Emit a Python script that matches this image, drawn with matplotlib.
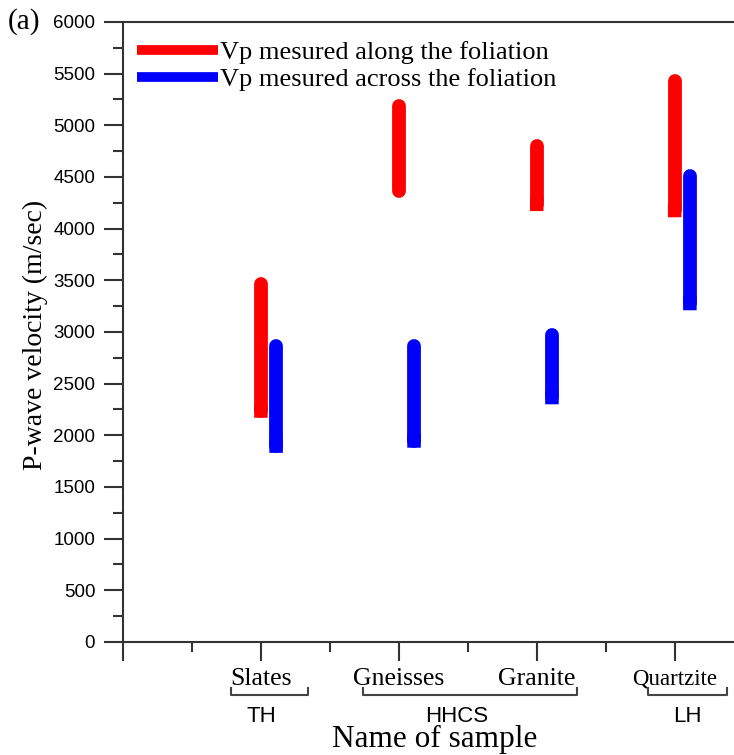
import matplotlib.pyplot as plt
from matplotlib.lines import Line2D
import numpy as np

# sample names and their tectonic units
samples = ['Slates', 'Gneisses', 'Granite', 'Quartzite']
sample_sizes = [18.5, 18.5, 18.5, 16.5]
groups = ['TH', 'HHCS', 'LH']
group_spans = [(0.78, 1.34), (1.74, 3.29), (3.81, 4.38)]
group_centers = [1.0, 2.42, 4.09]

# velocity ranges (m/sec)
along_low = [2170, 4300, 4170, 4110]
along_high = [3530, 5250, 4870, 5500]
across_low = [1830, 1880, 2300, 3210]
across_high = [2930, 2930, 3040, 4580]
along_round_bottom = [False, True, False, False]

serif = ['Liberation Serif', 'DejaVu Serif']
sans = ['Liberation Sans', 'DejaVu Sans']

fig = plt.figure(figsize=(7.34, 7.55), dpi=100)
ax = fig.add_axes([0.1676, 0.1497, 0.8324, 0.8212])
ax.set_xlim(0, 4.43)
ax.set_ylim(0, 6000)

x = np.arange(1, len(samples) + 1)
w = 0.1
offset = 0.11

# bar width in points and cap radius in data units
p0 = ax.transData.transform((0, 0))
p1 = ax.transData.transform((w, 1000))
bar_px = p1[0] - p0[0]
r_data = (bar_px / 2) / ((p1[1] - p0[1]) / 1000)
lw_pt = bar_px * 72 / fig.dpi


def draw_bars(xpos, low, high, color, round_bottom=None):
    for i in range(len(xpos)):
        # thick line with round caps, flat bottom covered by a bar
        ax.plot([xpos[i], xpos[i]], [low[i] + r_data, high[i] - r_data], color=color,
                lw=lw_pt, solid_capstyle='round', zorder=3)
        if round_bottom is None or not round_bottom[i]:
            ax.bar(xpos[i], 2 * r_data, bottom=low[i], width=w * 0.98, color=color,
                   zorder=3, snap=False, linewidth=0)


draw_bars(x, along_low, along_high, '#ff0000', along_round_bottom)
draw_bars(x + offset, across_low, across_high, '#0000ff')

# axes styling
spine_col = '#333333'
for s in ['left', 'bottom', 'top']:
    ax.spines[s].set_linewidth(1.5)
    ax.spines[s].set_color(spine_col)
ax.spines['right'].set_visible(False)

ax.set_yticks(np.arange(0, 6001, 500))
ax.set_yticks(np.arange(250, 6000, 500), minor=True)
ax.set_xticks(np.arange(0, 5))
ax.set_xticks(np.arange(0.5, 4.5, 1), minor=True)
ax.set_xticklabels([''] + samples, fontfamily=serif)
for lab, fs in zip(ax.get_xticklabels()[1:], sample_sizes):
    lab.set_fontsize(fs)
ax.tick_params(axis='both', which='major', direction='out', length=14, width=1.5,
               color=spine_col)
ax.tick_params(axis='both', which='minor', direction='out', length=7, width=1.5,
               color=spine_col)
ax.tick_params(axis='y', labelsize=13.5, pad=6)
ax.tick_params(axis='x', pad=5)
for lab in ax.get_yticklabels():
    lab.set_fontfamily(sans)

# group brackets under the sample names
tr = ax.get_xaxis_transform()
for (a, b), name, c in zip(group_spans, groups, group_centers):
    ax.plot([a, a, b, b], [-0.074, -0.086, -0.086, -0.074], color='#444444', lw=1.5,
            transform=tr, clip_on=False)
    ax.text(c, -0.12, name, transform=tr, ha='center', va='center',
            fontsize=16, family=sans)

ax.text(0.51, -0.158, 'Name of sample', transform=ax.transAxes, ha='center',
        va='center', fontsize=22.5, family=serif)
fig.text(35 / 734, 1 - 335 / 755, 'P-wave velocity (m/sec)', rotation=90,
         ha='center', va='center', fontsize=20, family=serif)
fig.text(0.01, 1 - 22 / 755, '(a)', ha='left', va='center', fontsize=21,
         family=serif)

handles = [Line2D([], [], color='#ff0000', lw=7, solid_capstyle='butt'),
           Line2D([], [], color='#0000ff', lw=7, solid_capstyle='butt')]
ax.legend(handles, ['Vp mesured along the foliation', 'Vp mesured across the foliation'],
          loc='upper left', bbox_to_anchor=(0.023, 0.97), frameon=False,
          borderaxespad=0, borderpad=0, handlelength=3.05, handletextpad=0.1,
          labelspacing=0.15, prop={'family': serif, 'size': 19})

fig.savefig('out.png', dpi=100)
